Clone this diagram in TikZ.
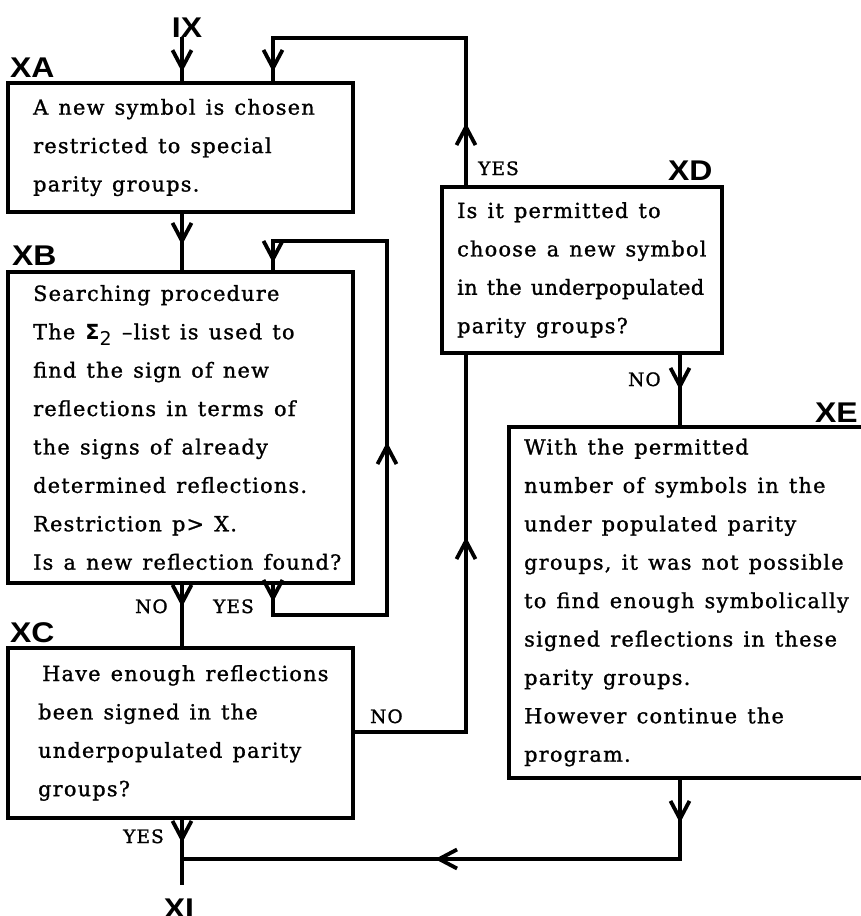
\documentclass[tikz,border=0pt]{standalone}
\usepackage{fontspec}
\setmainfont{DejaVu Serif}[LetterSpace=6,WordSpace=1.3,FakeBold=1.2]
\newfontfamily\lblfont{Liberation Sans}[FakeStretch=1.12]
\newfontfamily\sgfont{DejaVu Sans}
\usetikzlibrary{arrows.meta,decorations.markings}
\tikzset{
  Vtip/.tip={Straight Barb[length=18pt,width=19pt]},
  mk/.style={postaction={decorate,decoration={markings,mark=at position #1 with {\arrow{Vtip}}}}},
  box/.style={draw, line width=3.8pt, outer sep=0pt, inner sep=0pt, anchor=north west},
  txt/.style={anchor=west, align=left, inner sep=0pt, font=\fontsize{20.8}{38.4}\selectfont},
  tag/.style={inner sep=0pt, anchor=base west, font=\lblfont\bfseries\fontsize{28.5}{28.5}\selectfont},
  ans/.style={inner sep=0pt, anchor=base west, font=\fontsize{18.5}{18.5}\selectfont},
  conn/.style={line width=3.8pt},
}
\begin{document}
\begin{tikzpicture}[x=1pt,y=-1pt]
\clip (0,0) rectangle (861,916);
\fill[white] (0,0) rectangle (861,916);
% boxes
\node[box, minimum width=345pt, minimum height=129pt] (xa) at (8,83) {};
\node[box, minimum width=345pt, minimum height=311pt] (xb) at (8,272) {};
\node[box, minimum width=345pt, minimum height=170pt] (xc) at (8,648) {};
\node[box, minimum width=280pt, minimum height=166pt] (xd) at (442,187) {};
\node[box, minimum width=362pt, minimum height=351pt] (xe) at (509,427) {};
% texts
\node[txt] (ta) at ([xshift=25pt]xa.west) {A new symbol is chosen\\restricted to special\\parity groups.};
\node[txt] (tb) at ([xshift=25pt]xb.west) {Searching procedure\\The {\sgfont\bfseries Σ}\raisebox{-6pt}{\sgfont\fontsize{19}{19}\selectfont 2} –list is used to\\find the sign of new\\reflections in terms of\\the signs of already\\determined reflections.\\Restriction p> X.\\Is a new reflection found?};
\node[txt] (tc) at ([xshift=30pt]xc.west) {\hspace*{4pt}Have enough reflections\\been signed in the\\underpopulated parity\\groups?};
\node[txt] (td) at ([xshift=15pt]xd.west) {Is it permitted to\\choose a new symbol\\{\addfontfeature{LetterSpace=2}in the underpopulated}\\parity groups?};
\node[txt] (te) at ([xshift=15pt]xe.west) {With the permitted\\number of symbols in the\\under populated parity\\groups, it was not possible\\to find enough symbolically\\signed reflections in these\\parity groups.\\However continue the\\program.};
% tags
\node[tag, anchor=base] (ix) at (187,37) {IX};
\node[tag] (lxa) at (10,77) {XA};
\node[tag] (lxb) at (12,265) {XB};
\node[tag] (lxc) at (10,642) {XC};
\node[tag] (lxd) at (668,180) {XD};
\node[tag] (lxe) at (815,422) {XE};
\node[tag, anchor=base] (xi) at (179,918) {XI};
% answers
\node[ans] (yd) at (478,175) {YES};
\node[ans] (nd) at (628,386) {NO};
\node[ans] (nb) at (135,613) {NO};
\node[ans] (yb) at (213,613) {YES};
\node[ans] (nc) at (370,723) {NO};
\node[ans] (yc) at (123,843) {YES};
% coordinates
\coordinate (tx) at (182,0);
\coordinate (c1) at (466,38);
\coordinate (c2) at (273,38);
\coordinate (l1) at (387,615);
\coordinate (l2) at (387,241);
\coordinate (n1) at (466,732);
\coordinate (dx) at (680,0);
\coordinate (j1) at (680,859);
\coordinate (join) at (182,859);
\coordinate (xiend) at (182,885);
% connectors
\draw[conn, mk=35pt] (ix.south -| tx) -- (tx |- xa.north);
\draw[conn, mk=64pt, mk=376pt] (xd.north -| c1) -- (c1) -- (c2) -- (c2 |- xa.north);
\draw[conn, mk=33pt] (tx |- xa.south) -- (tx |- xb.north);
\draw[conn, mk=19pt, mk=319pt, mk=656pt] (c2 |- xb.south) -- (c2 |- l1) -- (l1) -- (l2) -- (c2 |- l2) -- (c2 |- xb.north);
\draw[conn, mk=24pt] (tx |- xb.south) -- (tx |- xc.north);
\draw[conn, mk=308pt] (xc.east |- n1) -- (n1) -- (n1 |- xd.south);
\draw[conn, mk=37pt] (dx |- xd.south) -- (dx |- xe.north);
\draw[conn, mk=45pt, mk=326pt] (dx |- xe.south) -- (j1) -- (join);
\draw[conn, mk=25pt] (tx |- xc.south) -- (xiend);
\end{tikzpicture}
\end{document}
